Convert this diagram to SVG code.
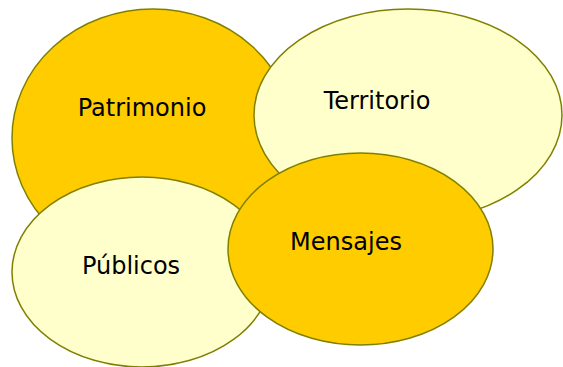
<svg xmlns="http://www.w3.org/2000/svg" width="563" height="367" viewBox="0 0 563 367">
<style>
.e{stroke:#808000;stroke-width:1.5}
.d{fill:#FFCC00}
.l{fill:#FFFFCC}
.t{font-family:"DejaVu Sans",Verdana,sans-serif;font-size:24px;fill:#000;text-anchor:middle}
</style>
<rect width="563" height="367" fill="#fff"/>
<g id="patrimonio">
<ellipse class="e d" cx="153" cy="138" rx="141" ry="129"/>
<text class="t" x="142" y="116">Patrimonio</text>
</g>
<g id="territorio">
<ellipse class="e l" cx="408" cy="115" rx="154" ry="106"/>
<text class="t" x="377" y="109">Territorio</text>
</g>
<g id="publicos">
<ellipse class="e l" cx="142" cy="272" rx="130" ry="95"/>
<text class="t" x="131" y="274">Públicos</text>
</g>
<g id="mensajes">
<ellipse class="e d" cx="360.5" cy="249" rx="132.5" ry="96"/>
<text class="t" x="346" y="250">Mensajes</text>
</g>
<g id="connectors"/>
</svg>
